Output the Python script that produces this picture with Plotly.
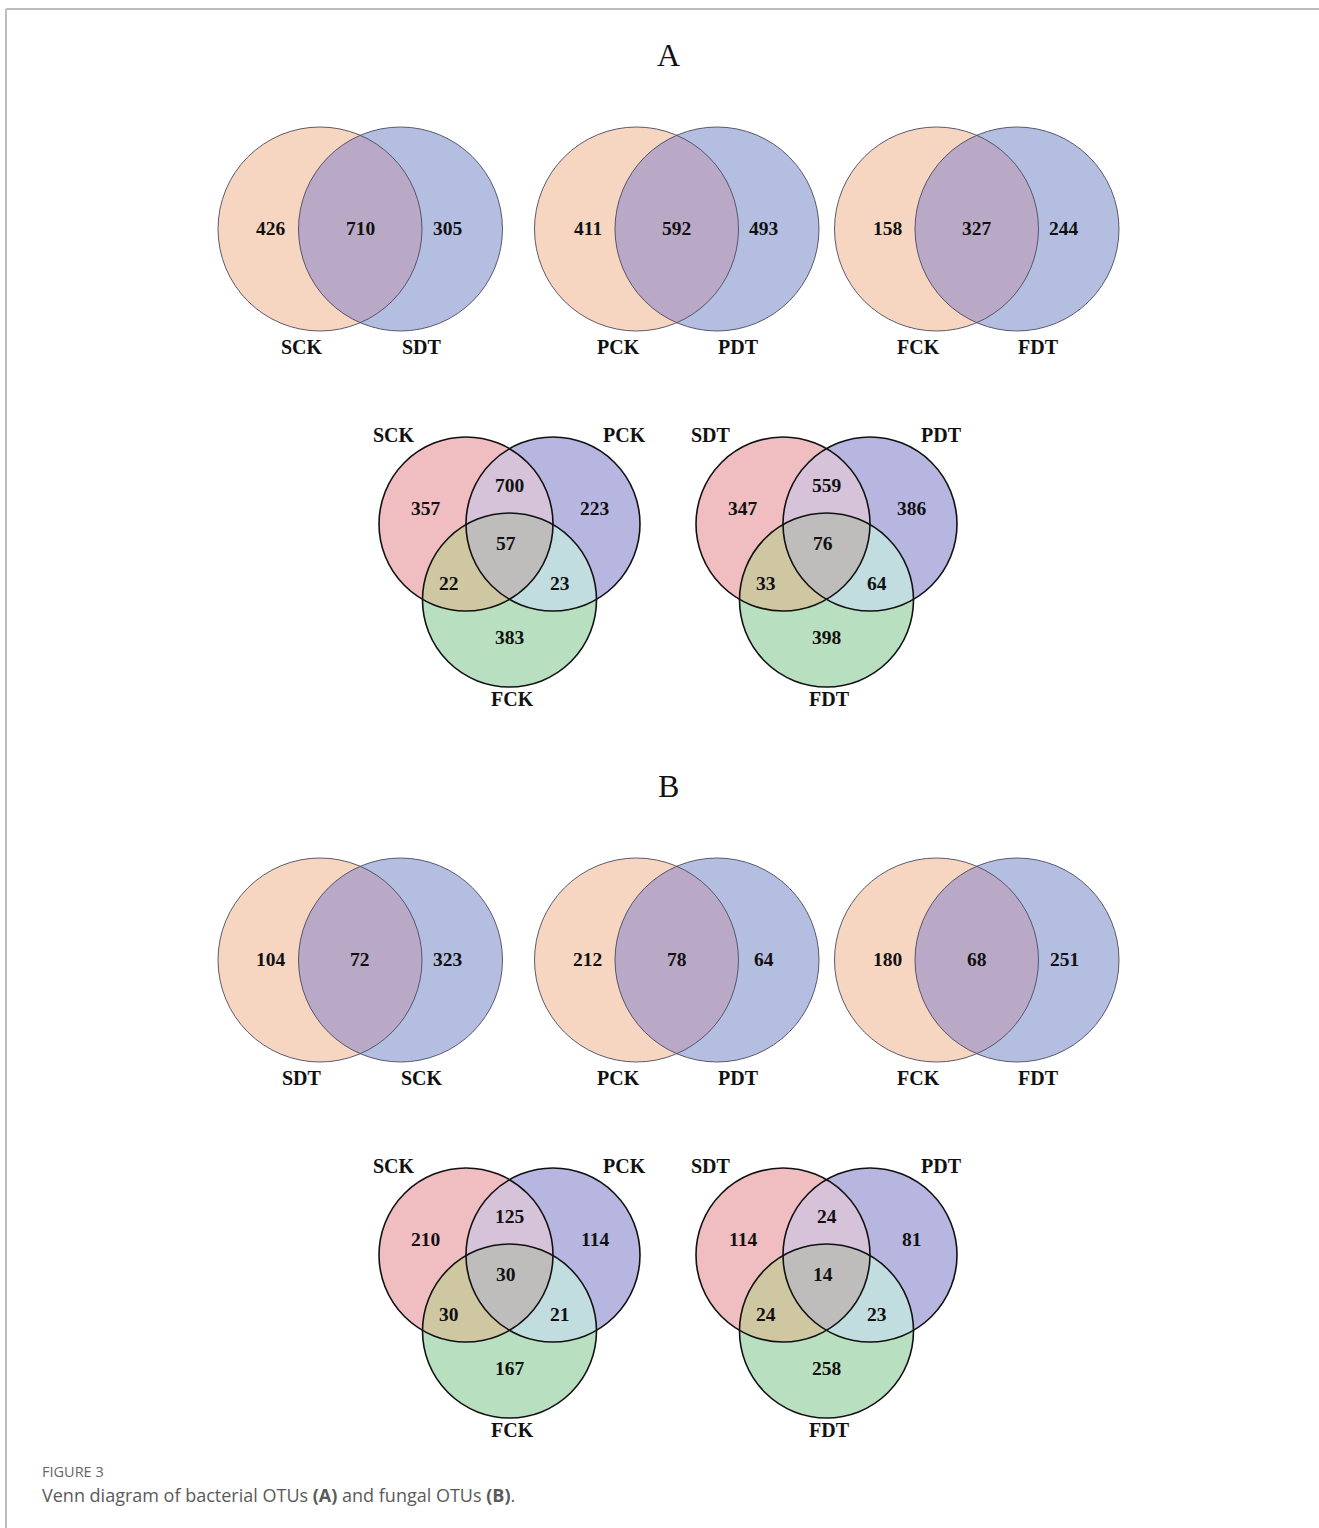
import numpy as np
import plotly.graph_objects as go

W, H = 1319, 1528

# ---------------- data ----------------
panel_titles = ["A", "B"]
pair_labels_A = [("SCK", "SDT"), ("PCK", "PDT"), ("FCK", "FDT")]
pair_values_A = [(426, 710, 305), (411, 592, 493), (158, 327, 244)]
pair_labels_B = [("SDT", "SCK"), ("PCK", "PDT"), ("FCK", "FDT")]
pair_values_B = [(104, 72, 323), (212, 78, 64), (180, 68, 251)]
triple_labels_A = [("SCK", "PCK", "FCK"), ("SDT", "PDT", "FDT")]
triple_labels_B = [("SCK", "PCK", "FCK"), ("SDT", "PDT", "FDT")]
# order: only1, 1&2, only2, 1&2&3, 1&3, 2&3, only3
triple_values_A = [(357, 700, 223, 57, 22, 23, 383), (347, 559, 386, 76, 33, 64, 398)]
triple_values_B = [(210, 125, 114, 30, 30, 21, 167), (114, 24, 81, 14, 24, 23, 258)]
caption_head = "FIGURE 3"
caption_text = "Venn diagram of bacterial OTUs <b>(A)</b> and fungal OTUs <b>(B)</b>."

# ---------------- styling / layout ----------------
PAIR_COLORS = ["#F6D5C1", "#B4BEE1", "#B9A9C6"]  # left, right, overlap
TRI_COLORS = {
    "1": "#F0BDC0", "2": "#B7B6E0", "3": "#B8DFBF",
    "12": "#D6C3D9", "13": "#CEC7A1", "23": "#C2DDE0", "123": "#BEBDBB",
}
SERIF = "Liberation Serif"

fig = go.Figure()
annotations = []
shapes = []


def circle_pts(cx, cy, r, n=720):
    t = np.linspace(0, 2 * np.pi, n, endpoint=False)
    return cx + r * np.cos(t), cy + r * np.sin(t)


def intersection(circles, n=1440):
    xs, ys = [], []
    for i, (cx, cy, r) in enumerate(circles):
        x, y = circle_pts(cx, cy, r, n)
        m = np.ones_like(x, dtype=bool)
        for j, (ox, oy, orr) in enumerate(circles):
            if j != i:
                m &= (x - ox) ** 2 + (y - oy) ** 2 <= orr ** 2 + 1e-6
        xs.append(x[m]); ys.append(y[m])
    x = np.concatenate(xs); y = np.concatenate(ys)
    mx, my = x.mean(), y.mean()
    o = np.argsort(np.arctan2(y - my, x - mx))
    x, y = x[o], y[o]
    return np.append(x, x[0]), np.append(y, y[0])


def fill(x, y, color):
    fig.add_trace(go.Scatter(x=x, y=y, mode="lines", fill="toself", fillcolor=color,
                             line=dict(width=0), hoverinfo="skip", showlegend=False))


def text(x, y, s, size=20, bold=True, color="#111", family=SERIF, xanchor="center"):
    annotations.append(dict(x=x, y=y, xref="x", yref="y", text=(f"<b>{s}</b>" if bold else s),
                            showarrow=False, xanchor=xanchor, yanchor="middle",
                            font=dict(family=family, size=size, color=color)))


def outline(cx, cy, r, color, width):
    shapes.append(dict(type="circle", xref="x", yref="y", x0=cx - r, x1=cx + r,
                       y0=cy - r, y1=cy + r, line=dict(color=color, width=width),
                       fillcolor="rgba(0,0,0,0)", layer="above"))


def pair_venn(cxl, cy, labels, values, r=102, d=80.5):
    cxr = cxl + d
    c1, c2 = (cxl, cy, r), (cxr, cy, r)
    fill(*circle_pts(*c1), PAIR_COLORS[0])
    fill(*circle_pts(*c2), PAIR_COLORS[1])
    fill(*intersection([c1, c2]), PAIR_COLORS[2])
    outline(*c1, "#4a4a5e", 0.9)
    outline(*c2, "#4a4a5e", 0.9)
    text(cxl - 49, cy - 1, values[0], 19.5)
    text((cxl + cxr) / 2, cy - 1, values[1], 19.5)
    text(cxr + 47, cy - 1, values[2], 19.5)
    text(cxl - 18, cy + 118, labels[0], 20)
    text(cxr + 21, cy + 118, labels[1], 20)


def triple_venn(cx1, cy, labels, values, r=87, d=87):
    cx2 = cx1 + d
    cx3 = cx1 + d / 2
    cy3 = cy + 76
    c1, c2, c3 = (cx1, cy, r), (cx2, cy, r), (cx3, cy3, r)
    fill(*circle_pts(*c1), TRI_COLORS["1"])
    fill(*circle_pts(*c2), TRI_COLORS["2"])
    fill(*circle_pts(*c3), TRI_COLORS["3"])
    fill(*intersection([c1, c2]), TRI_COLORS["12"])
    fill(*intersection([c1, c3]), TRI_COLORS["13"])
    fill(*intersection([c2, c3]), TRI_COLORS["23"])
    fill(*intersection([c1, c2, c3]), TRI_COLORS["123"])
    for c in (c1, c2, c3):
        outline(*c, "#111111", 1.6)
    mx = (cx1 + cx2) / 2
    offs = [(-84, -16), (0, -39), (85, -16), (-4, 19), (-61, 59), (50, 59), (0, 113)]
    for v, (dx, dy) in zip(values, offs):
        text(mx + dx, cy + dy, v, 19.5)
    text(cx1 - 72, cy - 89, labels[0], 20)
    text(cx2 + 71, cy - 89, labels[1], 20)
    text(cx3 + 3, cy3 + 99, labels[2], 20)


sections = [
    (0, panel_titles[0], pair_labels_A, pair_values_A, triple_labels_A, triple_values_A),
    (731, panel_titles[1], pair_labels_B, pair_values_B, triple_labels_B, triple_values_B),
]
pair_x = [320, 636.5, 936.5]
tri_x = [466, 783]
for y0, title, pl, pv, tl, tv in sections:
    text(668, 55 + y0, title, 32, bold=False)
    for cx, lab, val in zip(pair_x, pl, pv):
        pair_venn(cx, 229 + y0, lab, val)
    for cx, lab, val in zip(tri_x, tl, tv):
        triple_venn(cx, 524 + y0, lab, val)

# caption
text(40, 1471, caption_head, 14.5, bold=False, color="#666666", family="Open Sans", xanchor="left")
text(40, 1495, caption_text, 18, bold=False, color="#5a5a5a", family="Open Sans", xanchor="left")

# frame lines
shapes.append(dict(type="line", xref="x", yref="y", x0=6, x1=W, y0=9, y1=9,
                   line=dict(color="#bdbdbd", width=2)))
shapes.append(dict(type="line", xref="x", yref="y", x0=6, x1=6, y0=9, y1=H,
                   line=dict(color="#bdbdbd", width=2)))

fig.update_layout(
    width=W, height=H, margin=dict(l=0, r=0, t=0, b=0),
    paper_bgcolor="white", plot_bgcolor="white",
    xaxis=dict(range=[0, W], visible=False, fixedrange=True),
    yaxis=dict(range=[H, 0], visible=False, fixedrange=True),
    annotations=annotations, shapes=shapes, showlegend=False,
)
fig.write_html("out.html", config={"displayModeBar": False},
               post_script="document.body.style.margin='0';")
